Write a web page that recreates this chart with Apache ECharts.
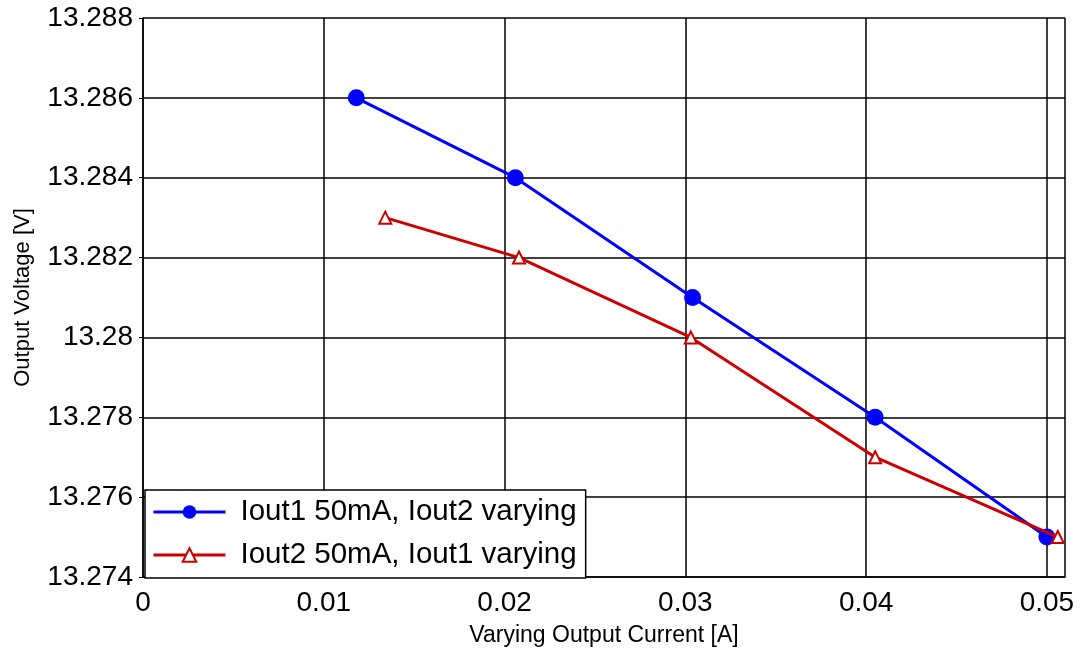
<!DOCTYPE html>
<html>
<head>
<meta charset="utf-8">
<script src="https://cdn.jsdelivr.net/npm/echarts@6/dist/echarts.min.js"></script>
<style>
  html, body { margin: 0; padding: 0; background: #fff; }
  #chart { width: 1081px; height: 654px; }
</style>
</head>
<body>
<div id="chart"></div>
<script>
// Iout1 fixed at 50mA, Iout2 varying
const blueCurrent = [0.0118, 0.0206, 0.0304, 0.0405, 0.0500]
const blueVoltage = [13.286, 13.284, 13.281, 13.278, 13.275]
// Iout2 fixed at 50mA, Iout1 varying
const redCurrent = [0.0134, 0.0208, 0.0303, 0.0405, 0.0506]
const redVoltage = [13.283, 13.282, 13.280, 13.277, 13.275]

const blueName = 'Iout1 50mA, Iout2 varying'
const redName = 'Iout2 50mA, Iout1 varying'

const pair = (xs, ys) => xs.map((x, i) => [x, ys[i]])

const chart = echarts.init(document.getElementById('chart'))
const font = 'Liberation Sans, Arial, sans-serif'

chart.setOption({
  animation: false,
  textStyle: { fontFamily: font },
  grid: { left: 143, right: 16, top: 18, bottom: 77, containLabel: false, outerBoundsMode: 'none' },
  legend: {
    left: 145,
    top: 490,
    orient: 'vertical',
    itemWidth: 72,
    itemHeight: 17,
    itemGap: 13,
    padding: [7, 9, 8, 7],
    borderColor: '#000',
    borderWidth: 1.5,
    borderRadius: 0,
    backgroundColor: '#fff',
    lineStyle: { width: 3 },
    textStyle: { fontSize: 29.5, color: '#000', fontFamily: font, padding: [0, 0, 0, 10] },
    data: [blueName, redName],
  },
  xAxis: {
    type: 'value',
    min: 0,
    max: 0.051,
    interval: 0.01,
    name: 'Varying Output Current [A]',
    nameLocation: 'middle',
    nameGap: 47,
    nameTextStyle: { fontSize: 23, color: '#000' },
    axisLine: { show: true, lineStyle: { color: '#000', width: 1.5 } },
    axisTick: { show: false },
    axisLabel: { fontSize: 28, color: '#000', margin: 12, showMaxLabel: false },
    splitLine: { show: true, lineStyle: { color: '#000', width: 1.5 } },
  },
  yAxis: {
    type: 'value',
    min: 13.274,
    max: 13.288,
    interval: 0.002,
    name: 'Output Voltage [V]',
    nameLocation: 'middle',
    nameGap: 109,
    nameTextStyle: { fontSize: 22, color: '#000' },
    axisLine: { show: true, lineStyle: { color: '#000', width: 1.5 } },
    axisTick: { show: true, length: 4, inside: false, lineStyle: { color: '#000' } },
    axisLabel: { fontSize: 28, color: '#000', margin: 10 },
    splitLine: { show: true, lineStyle: { color: '#000', width: 1.5 } },
  },
  series: [
    {
      name: blueName,
      type: 'line',
      data: pair(blueCurrent, blueVoltage),
      symbol: 'circle',
      symbolSize: 17,
      lineStyle: { color: '#0000ff', width: 3 },
      itemStyle: { color: '#0000ff' },
      z: 3,
    },
    {
      name: redName,
      type: 'line',
      data: pair(redCurrent, redVoltage),
      symbol: 'emptyTriangle',
      symbolSize: 12,
      lineStyle: { color: '#cc0000', width: 3 },
      itemStyle: { color: '#cc0000', borderColor: '#cc0000', borderWidth: 2.5 },
      z: 4,
    },
  ],
})
</script>
</body>
</html>
